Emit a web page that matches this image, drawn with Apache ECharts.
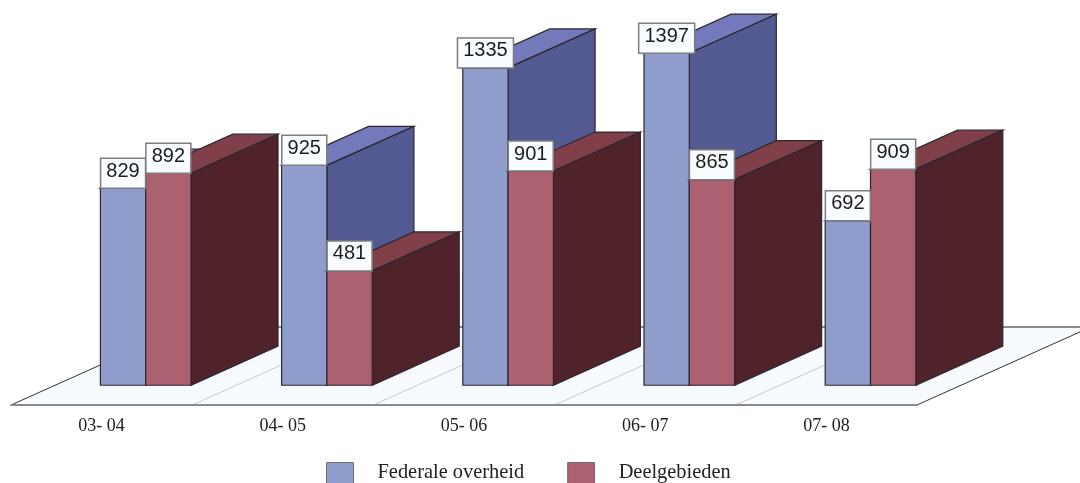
<!DOCTYPE html>
<html>
<head>
<meta charset="utf-8">
<style>
	html, body {margin: 0; padding: 0; background: #fff;}
	#chart {width: 1080px; height: 483px;}
</style>
<script src="https://cdn.jsdelivr.net/npm/echarts@6/dist/echarts.min.js"></script>
</head>
<body>
<div id="chart"></div>
<script>
var categories = ['03- 04', '04- 05', '05- 06', '06- 07', '07- 08'];
var federaleOverheid = [829, 925, 1335, 1397, 692];
var deelgebieden = [892, 481, 901, 865, 909];

var depthX = 174;
var depthY = -78;
var barStart = 0.2535;
var barEnd = 0.7535;
var edge = '#2b2730';

function poly(points, fill){
	return {
		type: 'polygon',
		shape: {points: points},
		style: {fill: fill, stroke: edge, lineWidth: 1.2}
	};
}

function renderFloor(params, api){
	var band = api.size([1, 0])[0];
	var y0 = api.coord([0, 0])[1];
	var left = api.coord([0, 0])[0] - band / 2;
	var right = left + band * categories.length;
	var children = [{
		type: 'polygon',
		shape: {points: [[left, y0], [right, y0], [right + depthX, y0 + depthY], [left + depthX, y0 + depthY]]},
		style: {fill: '#f7fbff'}
	}];
	for(var i = 1; i < categories.length; i++){
		children.push({
			type: 'line',
			shape: {x1: left + band * i, y1: y0, x2: left + band * i + depthX, y2: y0 + depthY},
			style: {stroke: '#c8cacc', lineWidth: 1}
		});
	}
	children.push({
		type: 'line',
		shape: {x1: left + depthX, y1: y0 + depthY, x2: right + depthX, y2: y0 + depthY},
		style: {stroke: '#8a8a8a', lineWidth: 2}
	});
	children.push({
		type: 'line',
		shape: {x1: left, y1: y0, x2: left + depthX, y2: y0 + depthY},
		style: {stroke: '#333', lineWidth: 1}
	});
	children.push({
		type: 'line',
		shape: {x1: right, y1: y0, x2: right + depthX, y2: y0 + depthY},
		style: {stroke: '#333', lineWidth: 1}
	});
	return {type: 'group', children: children};
}

function makeRenderBar(side, front, sideFace, top){
	return function(params, api){
		var band = api.size([1, 0])[0];
		var base = api.coord([api.value(0), 0]);
		var head = api.coord([api.value(0), api.value(1)]);
		var w = band / 4;
		var x0 = base[0] + depthX * barStart + (side === 0 ? -w : 0);
		var x1 = x0 + w;
		var yb = base[1] + depthY * barStart;
		var yt = head[1] + depthY * barStart;
		var dx = depthX * (barEnd - barStart);
		var dy = depthY * (barEnd - barStart);
		return {
			type: 'group',
			children: [
				poly([[x0, yt], [x1, yt], [x1 + dx, yt + dy], [x0 + dx, yt + dy]], top),
				poly([[x1, yt], [x1 + dx, yt + dy], [x1 + dx, yb + dy], [x1, yb]], sideFace),
				poly([[x0, yb], [x1, yb], [x1, yt], [x0, yt]], front)
			]
		};
	};
}

function makeRenderLabel(side){
	return function(params, api){
		var band = api.size([1, 0])[0];
		var base = api.coord([api.value(0), 0]);
		var head = api.coord([api.value(0), api.value(1)]);
		var w = band / 4;
		var cx = base[0] + depthX * barStart + (side === 0 ? -w / 2 : w / 2);
		var yt = head[1] + depthY * barStart;
		var text = String(api.value(1));
		var bw = text.length > 3 ? 56 : 45;
		return {
			type: 'group',
			children: [{
				type: 'rect',
				shape: {x: cx - bw / 2, y: yt - 30, width: bw, height: 30},
				style: {fill: '#f8fbff', stroke: '#7d7d7d', lineWidth: 1.5}
			}, {
				type: 'text',
				style: {
					text: text,
					x: cx,
					y: yt - 17,
					align: 'center',
					verticalAlign: 'middle',
					fill: '#1d1d1d',
					font: '20px "Liberation Sans", Arial, sans-serif'
				}
			}]
		};
	};
}

function pairs(values){
	return values.map(function(v, i){
		return [i, v];
	});
}

function barSeries(name, values, side, front, sideFace, top){
	return {
		type: 'custom',
		name: name,
		coordinateSystem: 'cartesian2d',
		clip: false,
		z: 3,
		silent: true,
		itemStyle: {color: front},
		encode: {x: 0, y: 1},
		data: pairs(values),
		renderItem: makeRenderBar(side, front, sideFace, top)
	};
}

function labelSeries(values, side){
	return {
		type: 'custom',
		coordinateSystem: 'cartesian2d',
		clip: false,
		z: 5,
		silent: true,
		encode: {x: 0, y: 1},
		data: pairs(values),
		renderItem: makeRenderLabel(side)
	};
}

var chart = echarts.init(document.getElementById('chart'));
chart.setOption({
	animation: false,
	backgroundColor: '#fff',
	grid: {left: 11, width: 906, top: 24.7, height: 380.3},
	legend: {
		left: 326,
		top: 462,
		padding: 0,
		itemWidth: 27,
		itemHeight: 21,
		itemGap: 43,
		icon: 'rect',
		selectedMode: false,
		data: ['Federale overheid', 'Deelgebieden'],
		itemStyle: {borderColor: '#6f6f6f', borderWidth: 1},
		textStyle: {
			fontFamily: '"Liberation Serif", serif',
			fontSize: 20.4,
			color: '#222',
			padding: [0, 0, 0, 19]
		}
	},
	xAxis: {
		type: 'category',
		data: categories,
		z: 4,
		axisLine: {lineStyle: {color: '#8a8a8a', width: 2}},
		axisTick: {alignWithLabel: true, length: 10, lineStyle: {color: '#333', width: 1}},
		axisLabel: {
			margin: 12,
			fontFamily: '"Liberation Serif", serif',
			fontSize: 18,
			color: '#222'
		}
	},
	yAxis: {type: 'value', min: 0, max: 1600, show: false},
	series: [{
		type: 'custom',
		coordinateSystem: 'cartesian2d',
		clip: false,
		z: 1,
		silent: true,
		encode: {x: 0, y: 1},
		data: [[0, 0]],
		renderItem: renderFloor
	},
	barSeries('Federale overheid', federaleOverheid, 0, '#8f9dcd', '#535a92', '#7379bb'),
	barSeries('Deelgebieden', deelgebieden, 1, '#ab6170', '#50232b', '#813f4a'),
	labelSeries(federaleOverheid, 0),
	labelSeries(deelgebieden, 1)]
});
</script>
</body>
</html>
